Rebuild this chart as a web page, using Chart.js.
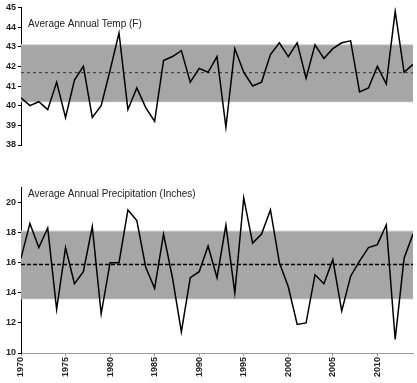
<!DOCTYPE html>
<html>
<head>
<meta charset="utf-8">
<script src="https://cdn.jsdelivr.net/npm/chart.js@4/dist/chart.umd.min.js"></script>
<style>
  html, body { margin: 0; padding: 0; background: #fff; }
  #wrap { position: relative; width: 417px; height: 383px; }
  #c1 { position: absolute; left: 0; top: 0; }
  #c2 { position: absolute; left: 0; top: 180px; }
</style>
</head>
<body>
<div id="wrap">
  <canvas id="c1" width="417" height="180"></canvas>
  <canvas id="c2" width="417" height="203"></canvas>
</div>
<script>
// ---- data ----
const years = [1970,1971,1972,1973,1974,1975,1976,1977,1978,1979,
               1980,1981,1982,1983,1984,1985,1986,1987,1988,1989,
               1990,1991,1992,1993,1994,1995,1996,1997,1998,1999,
               2000,2001,2002,2003,2004,2005,2006,2007,2008,2009,
               2010,2011,2012,2013,2014];
const tempValues = [40.4,40.0,40.2,39.8,41.2,39.4,41.3,42.0,39.4,40.0,
                    41.8,43.7,39.8,40.9,39.9,39.2,42.3,42.5,42.8,41.2,
                    41.9,41.7,42.5,38.9,42.9,41.7,41.0,41.2,42.6,43.2,
                    42.5,43.2,41.4,43.1,42.4,42.9,43.2,43.3,40.7,40.9,
                    42.0,41.1,44.8,41.7,42.1];
const precipValues = [16.3,18.6,17.0,18.3,12.9,17.0,14.6,15.4,18.4,12.6,
                      16.0,16.0,19.5,18.8,15.7,14.3,17.9,15.0,11.4,15.0,
                      15.4,17.1,15.0,18.5,14.0,20.3,17.3,17.9,19.5,16.0,
                      14.4,11.9,12.0,15.2,14.6,16.2,12.8,15.1,16.1,17.0,
                      17.2,18.5,10.9,16.3,17.9];
const tempBand = [40.2, 43.1];     // mean -/+ 1 sd
const tempMean = [41.68];
const precipBand = [13.6, 18.1];
const precipMean = [15.88];
const xTickLabels = [1970,1975,1980,1985,1990,1995,2000,2005,2010];
const tempTicks = [38,39,40,41,42,43,44,45];
const precipTicks = [10,12,14,16,18,20];
const titles = ["Average Annual Temp (F)", "Average Annual Precipitation (Inches)"];

// ---- helpers ----
const FONT = "'Liberation Sans', Arial, sans-serif";
const titlePlugin = {
  id: 'panelTitle',
  afterDraw(chart, args, opts) {
    const ctx = chart.ctx, a = chart.chartArea;
    ctx.save();
    ctx.font = '10px ' + FONT;
    ctx.fillStyle = '#222';
    ctx.textBaseline = 'middle';
    ctx.textAlign = 'left';
    ctx.fillText(opts.text, a.left + 7, a.top + opts.dy);
    ctx.restore();
  }
};

function pts(vals) { return years.map((y, i) => ({x: y, y: vals[i]})); }
function flat(v) { return [{x: years[0], y: v}, {x: years[years.length - 1], y: v}]; }

function makeChart(id, vals, band, mean, yMin, yMax, yTicks, showX, title, dy, meanStyle) {
  return new Chart(document.getElementById(id), {
    type: 'line',
    data: {
      datasets: [
        { data: pts(vals), borderColor: '#000', borderWidth: 1.5, pointRadius: 0, tension: 0, fill: false, order: 0 },
        { data: flat(mean[0]), borderColor: meanStyle.color, borderWidth: meanStyle.width, borderDash: meanStyle.dash,
          pointRadius: 0, fill: false, order: 1 },
        { data: flat(band[1]), borderColor: '#d4d4d4', borderWidth: 1, pointRadius: 0,
          backgroundColor: '#a6a6a6', fill: {value: band[0]}, order: 2 },
        { data: flat(band[0]), borderColor: '#d4d4d4', borderWidth: 1, pointRadius: 0, fill: false, order: 3 }
      ]
    },
    options: {
      responsive: false,
      animation: false,
      devicePixelRatio: 1,
      layout: { padding: { top: showX ? 3 : 5, bottom: showX ? 0 : 5, left: 0, right: 4 } },
      plugins: { legend: { display: false }, tooltip: { enabled: false }, panelTitle: { text: title, dy: dy } },
      scales: {
        x: {
          type: 'linear', min: years[0], max: years[years.length - 1],
          display: showX,
          afterBuildTicks: s => { s.ticks = xTickLabels.map(v => ({value: v})); },
          afterFit: s => { s.height = 30; },
          border: { display: true, color: '#9a9a9a', width: 1 },
          grid: { drawOnChartArea: false, drawTicks: true, tickLength: 3, color: '#9a9a9a' },
          ticks: { minRotation: 90, maxRotation: 90, padding: 1, color: '#222',
                   font: { family: FONT, size: 9, weight: 'bold' }, callback: v => String(v) }
        },
        y: {
          min: yMin, max: yMax,
          afterBuildTicks: s => { s.ticks = yTicks.map(v => ({value: v})); },
          afterFit: s => { s.width = 21; },
          border: { display: true, color: '#000', width: 1 },
          grid: { drawOnChartArea: false, drawTicks: true, tickLength: 3, color: '#000' },
          ticks: { padding: 2, color: '#222', font: { family: FONT, size: 9, weight: 'bold' }, callback: v => String(v) }
        }
      }
    },
    plugins: [titlePlugin]
  });
}

makeChart('c1', tempValues, tempBand, tempMean, 38, 45, tempTicks, false, titles[0], 16.5,
          { color: '#333', width: 1, dash: [3, 3] });
makeChart('c2', precipValues, precipBand, precipMean, 10, 21, precipTicks, true, titles[1], 6.7,
          { color: '#000', width: 1.5, dash: [4, 2] });
</script>
</body>
</html>
